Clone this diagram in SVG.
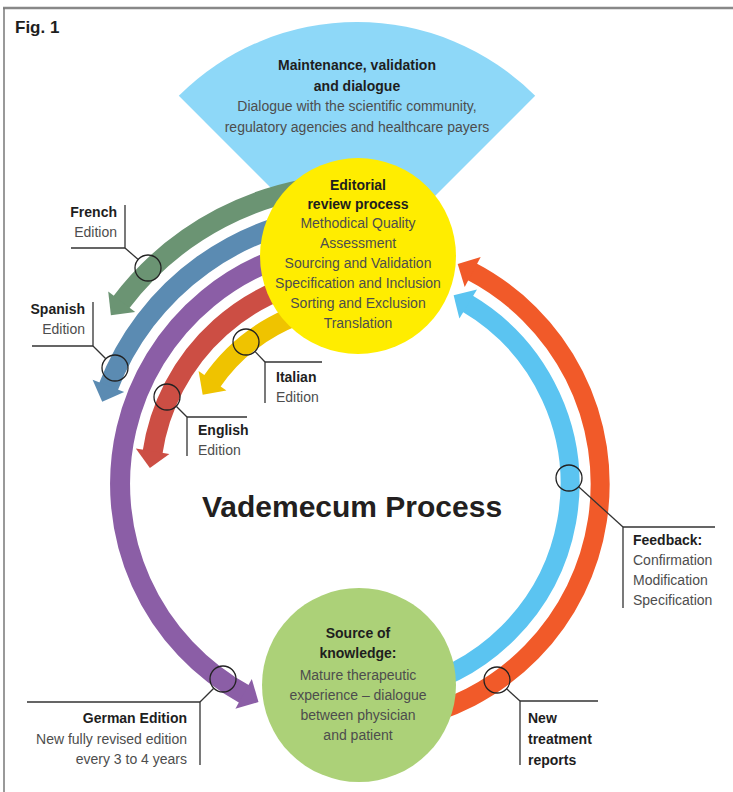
<svg xmlns="http://www.w3.org/2000/svg" width="733" height="792" viewBox="0 0 733 792">
<style>
text{font-family:"Liberation Sans",Arial,sans-serif;font-size:14px;fill:#4d4d4d}
.b{font-weight:bold;fill:#1e1e1e}
.c{text-anchor:middle}
.e{text-anchor:end}
.band{fill:none;stroke-width:20}
.lead{fill:none;stroke:#333;stroke-width:1.3}
.ring{fill:none;stroke:#222;stroke-width:1.3}
</style>
<rect width="733" height="792" fill="#fff"/>
<g id="frame">
<line x1="3" y1="8" x2="733" y2="8" stroke="#888" stroke-width="2.5"/>
<line x1="4" y1="8" x2="4" y2="792" stroke="#777" stroke-width="1.5"/>
<text x="15" y="33" class="b" style="font-size:17px">Fig. 1</text>
</g>
<g id="maintenance">
<path d="M357,274 L178.8,95.8 A252,252 0 0,1 535.2,95.8 Z" fill="#8ed8f8"/>
<text x="357" y="70" class="b c">Maintenance, validation</text>
<text x="357" y="91" class="b c">and dialogue</text>
<text x="357" y="111" class="c">Dialogue with the scientific community,</text>
<text x="357" y="132" class="c">regulatory agencies and healthcare payers</text>
</g>
<g id="connectors">
<path class="band" stroke="#6b9473" d="M349.5,184.2 A300,300 0 0,0 120.3,303.5"/>
<polygon fill="#6b9473" points="108.2,291.5 135.2,312.1 110.9,315.3"/>
<path class="band" stroke="#5b8bb2" d="M350.6,214.2 A270,270 0 0,0 108.0,387.9"/>
<polygon fill="#5b8bb2" points="92.6,379.7 124.2,392.1 102.2,401.7"/>
<path class="band" stroke="#8b5ea6" d="M351.6,244.1 A240,240 0 0,0 245.6,694.9"/>
<polygon fill="#8b5ea6" points="235.4,708.8 251.8,679.0 258.5,702.1"/>
<path class="band" stroke="#cc4e44" d="M352.7,274.1 A210,210 0 0,0 152.4,453.2"/>
<polygon fill="#cc4e44" points="135.8,448.5 169.4,453.9 149.9,468.0"/>
<path class="band" stroke="#efc300" d="M353.7,304.1 A180,180 0 0,0 211.3,382.4"/>
<polygon fill="#efc300" points="198.6,371.0 226.4,390.6 202.7,394.7"/>
<path class="band" stroke="#f15a29" style="stroke-width:19" d="M401.7,720.4 A240,240 0 0,0 470.9,271.1"/>
<polygon fill="#f15a29" points="480.7,257.1 464.7,287.1 457.7,264.1"/>
<path class="band" stroke="#5bc4f1" style="stroke-width:19" d="M396.5,690.8 A210,210 0 0,0 466.5,303.0"/>
<polygon fill="#5bc4f1" points="477.0,289.4 459.4,318.6 453.6,295.2"/>
</g>
<g id="editorial">
<circle cx="358" cy="256" r="98" fill="#ffed00"/>
<text x="358" y="190" class="b c">Editorial</text>
<text x="358" y="209" class="b c">review process</text>
<text x="358" y="228" class="c">Methodical Quality</text>
<text x="358" y="248" class="c">Assessment</text>
<text x="358" y="268" class="c">Sourcing and Validation</text>
<text x="358" y="288" class="c">Specification and Inclusion</text>
<text x="358" y="308" class="c">Sorting and Exclusion</text>
<text x="358" y="328" class="c">Translation</text>
</g>
<g id="source">
<circle cx="359" cy="685" r="97" fill="#acd178"/>
<text x="358" y="638" class="b c">Source of</text>
<text x="358" y="658" class="b c">knowledge:</text>
<text x="358" y="680" class="c">Mature therapeutic</text>
<text x="358" y="700" class="c">experience – dialogue</text>
<text x="358" y="720" class="c">between physician</text>
<text x="358" y="740" class="c">and patient</text>
</g>
<g id="title">
<text x="352" y="517" class="b c" style="font-size:30px;fill:#231f20">Vademecum Process</text>
</g>
<g id="callouts">
<circle class="ring" cx="148" cy="268" r="13"/>
<polyline class="lead" points="71,248 125,248 125,205"/>
<line class="lead" x1="125" y1="248" x2="138.2" y2="259.5"/>
<circle class="ring" cx="115" cy="368" r="13"/>
<polyline class="lead" points="32,346 93,346 93,302"/>
<line class="lead" x1="93" y1="346" x2="105.8" y2="358.8"/>
<circle class="ring" cx="246" cy="342" r="13"/>
<polyline class="lead" points="322,362 265,362 265,403"/>
<line class="lead" x1="265" y1="362" x2="254.9" y2="351.4"/>
<circle class="ring" cx="167" cy="397" r="13"/>
<polyline class="lead" points="247,417 187,417 187,456"/>
<line class="lead" x1="187" y1="417" x2="176.2" y2="406.2"/>
<circle class="ring" cx="569" cy="478" r="13"/>
<polyline class="lead" points="715,527 623,527 623,608"/>
<line class="lead" x1="623" y1="527" x2="578.6" y2="486.7"/>
<circle class="ring" cx="497" cy="680" r="13"/>
<polyline class="lead" points="598,701 520,701 520,765"/>
<line class="lead" x1="520" y1="701" x2="506.6" y2="688.8"/>
<circle class="ring" cx="223" cy="679" r="13"/>
<polyline class="lead" points="27,702 200,702 200,765"/>
<line class="lead" x1="200" y1="702" x2="213.8" y2="688.2"/>
</g>
<g id="labels">
<text x="117" y="217" class="b e">French</text>
<text x="117" y="237" class="e">Edition</text>
<text x="85" y="314" class="b e">Spanish</text>
<text x="85" y="334" class="e">Edition</text>
<text x="276" y="382" class="b">Italian</text>
<text x="276" y="402" class="">Edition</text>
<text x="198" y="435" class="b">English</text>
<text x="198" y="455">Edition</text>
<text x="633" y="545" class="b">Feedback:</text>
<text x="633" y="565">Confirmation</text>
<text x="633" y="585">Modification</text>
<text x="633" y="605">Specification</text>
<text x="528" y="723" class="b">New</text>
<text x="528" y="744" class="b">treatment</text>
<text x="528" y="765" class="b">reports</text>
<text x="187" y="723" class="b e">German Edition</text>
<text x="187" y="744" class="e">New fully revised edition</text>
<text x="187" y="764" class="e">every 3 to 4 years</text>
</g>
</svg>
